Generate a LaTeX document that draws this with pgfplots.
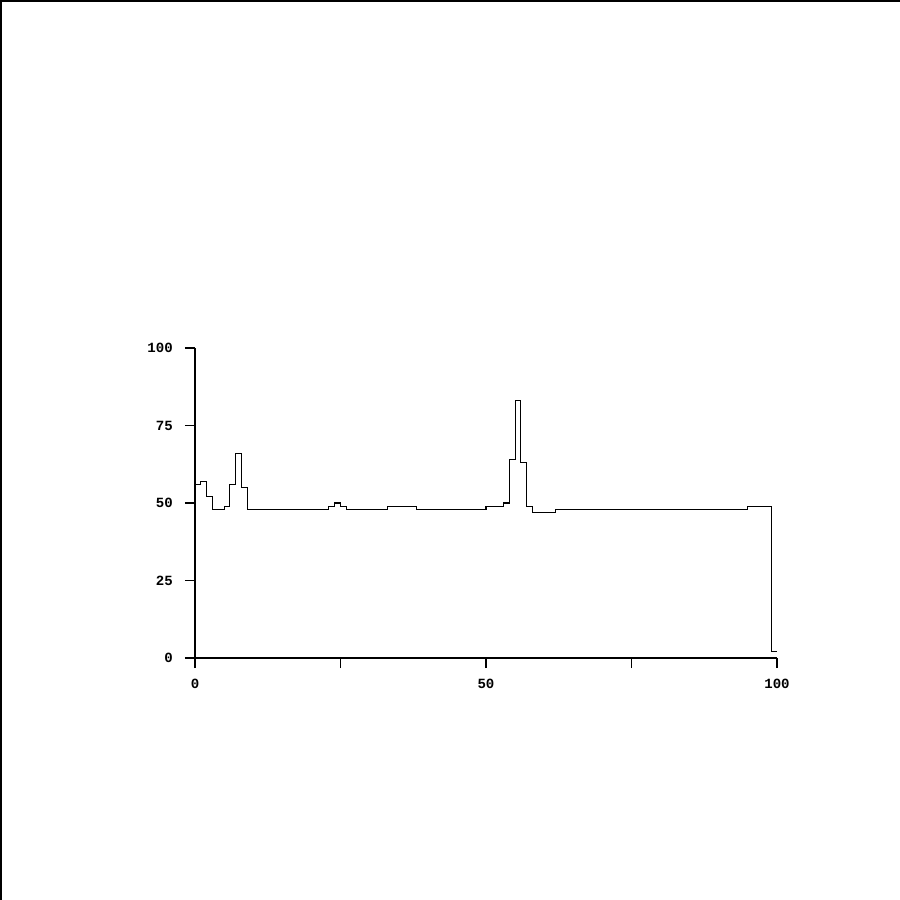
\documentclass[border=0pt]{standalone}
\usepackage{fontspec}
\setmonofont{Liberation Mono}
\usepackage{pgfplots}
\pgfplotsset{compat=1.18}

\begin{document}
\begin{tikzpicture}
\path[use as bounding box] (0,0) rectangle (18cm,18cm);
% frame on the left and top edges
\draw[line width=0.04cm] (0.02cm,0) -- (0.02cm,17.98cm) -- (18cm,17.98cm);
\begin{axis}[
    at={(3.9cm,4.84cm)},
    anchor=south west,
    scale only axis,
    width=11.64cm,
    height=6.2cm,
    xmin=0, xmax=100,
    ymin=0, ymax=100,
    axis x line=bottom,
    axis y line=left,
    axis line style={-, line width=0.6pt},
    tick align=outside,
    major tick length=0.2cm,
    tick style={line width=0.6pt, black},
    xtick={0,25,50,75,100},
    xticklabels={0,,50,,100},
    ytick={0,25,50,75,100},
    yticklabels={0,25,50,75,100},
    tick label style={font=\ttfamily\bfseries\fontsize{8}{9}\selectfont},
    xticklabel style={yshift=-0.1cm},
    yticklabel style={xshift=-0.12cm},
    /pgf/number format/assume math mode=true,
]
\addplot[const plot, mark=none, black, line width=0.6pt] coordinates {
    (0,56) (1,57) (2,52) (3,48) (4,48) (5,49) (6,56) (7,66) (8,55)
    (9,48) (23,49) (24,50) (25,49) (26,48) (33,49) (38,48)
    (50,49) (53,50) (54,64) (55,83) (56,63) (57,49) (58,47)
    (62,48) (95,49) (99,2) (100,2)
};
\end{axis}
\end{tikzpicture}
\end{document}
